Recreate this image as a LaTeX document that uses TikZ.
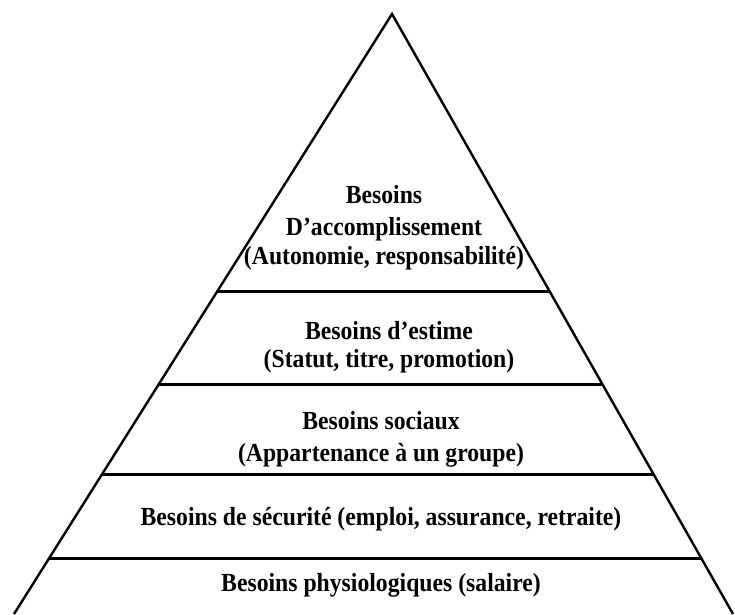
\documentclass[tikz,border=0pt]{standalone}
\usepackage{fontspec}
\setmainfont{Liberation Serif}
\usetikzlibrary{calc}
\newcommand\tallt[1]{\scalebox{1}[1.1]{#1}}
\tikzset{
  edge/.style={line width=2.4pt, black},
  tier/.style={line width=3pt, black},
  lbl/.style={font=\fontsize{23.7}{30}\selectfont\bfseries, align=center, inner sep=0pt, anchor=base}
}
\begin{document}
\begin{tikzpicture}[x=1pt,y=-1pt]
\useasboundingbox (0,0) rectangle (735,614);
\fill[white] (0,0) rectangle (735,614);
\coordinate (A) at (392,14);
\coordinate (BL) at (14,614);
\coordinate (BR) at (733,614);
\clip (0,0) rectangle (735,614);
\draw[edge, line join=miter] (BL) -- (A) -- (BR);
\foreach \n/\t in {1/0.4617,2/0.6167,3/0.7667,4/0.9067}{
  \coordinate (L\n) at ($(A)!\t!(BL)$);
  \coordinate (R\n) at ($(A)!\t!(BR)$);
  \draw[tier] (L\n) -- (R\n);
}
\node[lbl] (t1a) at (384,203) {\tallt{Besoins}};
\node[lbl] (t1b) at (384,235) {\tallt{D’accomplissement}};
\node[lbl] (t1c) at (384,264) {\tallt{(Autonomie, responsabilité)}};
\node[lbl] (t2a) at (389,339) {\tallt{Besoins d’estime}};
\node[lbl] (t2b) at (389,367) {\tallt{(Statut, titre, promotion)}};
\node[lbl] (t3a) at (381,429) {\tallt{Besoins sociaux}};
\node[lbl] (t3b) at (381,461) {\tallt{(Appartenance à un groupe)}};
\node[lbl] (t4) at (381,525) {\tallt{Besoins de sécurité (emploi, assurance, retraite)}};
\node[lbl] (t5) at (381,591) {\tallt{Besoins physiologiques (salaire)}};
\end{tikzpicture}
\end{document}
